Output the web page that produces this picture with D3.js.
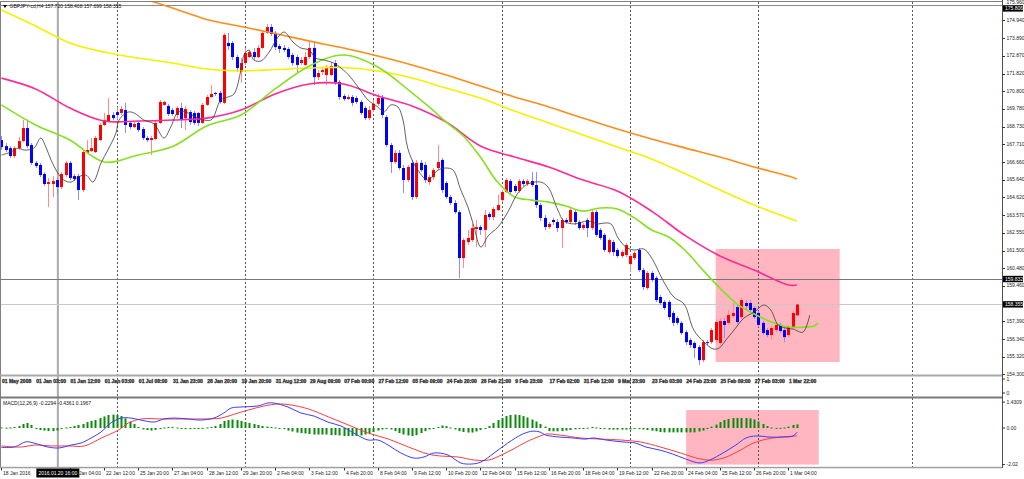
<!DOCTYPE html>
<html>
<head>
<meta charset="utf-8">
<script src="https://cdn.jsdelivr.net/npm/d3@7"></script>
<style>
  body { margin: 0; background: #fff; }
  text { font-family: "Liberation Sans", Arial, sans-serif; font-size: 5px; }
</style>
</head>
<body>
<div id="chart"></div>
<script>
// GBPJPY H4 candles, 18 Jan 12:00 .. 1 Mar 12:00
const opens = [
  167.94,167.59,167.47,167.01,167.47,167.88,168.64,167.65,166.61,166.49,
  165.96,165.38,165.38,165.61,165.20,165.90,166.61,165.84,165.84,165.03,
  167.19,167.30,167.24,167.94,168.82,169.05,169.40,169.57,169.52,169.69,
  168.94,168.70,168.94,168.58,168.06,167.94,168.00,168.94,169.99,169.93,
  169.69,169.40,169.81,169.22,169.57,169.52,169.52,168.94,169.99,170.45,
  170.69,170.69,170.11,173.60,173.60,172.78,171.91,172.43,172.78,173.07,
  172.78,173.31,174.19,174.53,174.19,173.42,173.31,173.25,172.90,172.78,
  172.43,172.32,172.78,173.31,171.61,171.91,171.73,171.73,172.43,171.32,
  170.51,170.33,170.45,170.39,170.16,169.81,169.22,169.69,170.05,170.39,
  169.28,167.65,166.66,167.19,166.31,165.61,166.61,164.62,166.61,166.49,
  165.49,165.78,166.31,166.78,165.44,164.62,164.27,163.74,161.06,161.99,
  162.11,162.75,162.87,162.70,163.63,163.45,163.86,164.44,164.91,165.55,
  165.26,164.97,165.55,165.38,165.55,165.32,164.15,163.40,162.87,163.28,
  163.16,162.81,163.28,163.16,163.74,163.16,162.81,163.28,162.81,163.74,
  162.70,162.41,161.41,161.99,161.53,161.18,161.24,160.71,161.06,161.53,
  160.36,159.31,160.19,159.90,158.79,158.50,158.50,157.86,157.56,157.28,
  156.74,156.28,156.11,155.87,155.11,156.16,156.16,156.28,156.11,157.39,
  157.28,157.68,158.20,157.62,158.44,158.44,158.15,157.86,157.28,156.86,
  156.57,156.86,157.16,156.86,156.57,157.04,157.72
];
const highs = [
  168.18,167.77,167.59,167.59,168.12,169.11,169.11,167.77,166.72,166.61,
  166.07,165.73,165.84,165.73,166.07,166.72,166.72,165.96,165.96,167.36,
  167.94,168.06,168.18,168.94,169.52,170.39,169.57,169.87,169.93,170.11,
  169.05,168.99,169.05,168.70,168.18,168.18,169.05,170.28,170.22,170.05,
  169.81,169.93,170.11,169.93,169.69,169.63,169.57,170.11,170.57,171.15,
  170.74,170.80,174.19,174.19,173.71,172.90,172.72,173.31,173.19,173.31,
  173.48,174.30,174.71,174.71,174.30,173.54,173.48,173.36,173.02,172.90,
  172.78,173.07,173.65,173.65,172.02,172.14,172.32,172.49,172.61,171.44,
  170.63,170.57,170.57,170.51,170.28,169.93,169.93,170.28,170.63,170.57,
  169.40,167.77,167.36,167.36,166.49,166.49,166.78,166.78,166.78,166.66,
  165.90,166.31,167.65,166.89,165.55,164.74,164.44,163.86,162.23,162.70,
  163.05,163.28,162.99,163.86,163.74,164.03,164.74,165.03,165.73,165.67,
  165.38,165.67,165.67,165.67,166.07,166.07,164.27,163.57,163.16,163.40,
  163.34,163.40,163.40,163.98,163.86,163.28,163.10,163.40,163.86,163.86,
  162.81,162.52,162.23,162.11,161.64,161.53,161.94,161.30,161.47,161.64,
  160.48,160.31,160.31,160.01,158.90,158.61,158.61,157.97,157.68,157.39,
  156.86,156.39,156.22,155.99,156.28,156.28,156.98,157.51,157.56,157.56,
  158.03,158.44,158.32,158.73,158.61,158.61,158.26,157.97,157.39,156.98,
  157.10,157.28,157.28,156.98,157.16,157.97,158.408
];
const lows = [
  167.36,167.24,166.89,166.89,167.36,167.82,167.47,166.49,166.31,165.78,
  165.26,164.03,164.62,164.74,165.08,165.78,165.61,165.55,164.44,164.91,
  167.13,167.24,167.19,167.88,168.76,168.99,169.11,169.11,169.40,168.35,
  168.59,168.64,168.41,167.94,167.82,167.07,167.94,168.88,169.93,169.34,
  169.34,169.22,168.64,168.53,168.82,168.82,168.76,168.88,169.93,170.39,
  170.51,170.05,170.05,173.19,172.61,171.91,171.27,172.32,172.72,172.61,
  172.72,173.25,174.13,174.01,173.19,173.02,173.07,172.66,172.26,171.91,
  172.32,172.26,172.66,171.15,171.44,171.73,171.15,171.67,171.15,170.28,
  170.22,170.28,169.93,170.05,169.40,169.11,169.11,169.57,169.93,169.22,
  167.53,166.02,166.55,166.19,164.86,165.49,164.44,164.50,166.07,165.44,
  165.32,165.61,166.19,164.86,164.50,164.15,163.63,159.90,160.48,161.82,
  161.99,161.70,162.41,161.70,163.28,163.28,163.80,164.33,164.86,164.74,
  164.86,164.86,165.26,165.26,165.20,163.98,163.22,162.70,162.75,162.99,
  162.58,161.64,163.05,163.05,162.99,162.70,162.70,162.29,162.70,162.29,
  162.11,161.41,161.30,161.18,161.06,161.06,161.12,160.25,160.95,160.25,
  159.20,159.20,159.66,158.50,158.32,158.03,157.45,157.10,157.16,156.57,
  155.99,155.81,155.23,154.82,154.99,155.99,156.04,156.11,155.99,156.39,
  157.16,157.56,157.22,157.51,158.03,157.91,157.51,157.04,156.57,156.45,
  156.28,156.74,156.69,156.16,156.45,156.92,157.699
];
const closes = [
  167.53,167.36,167.01,167.47,167.88,168.64,167.59,166.61,166.43,165.90,
  165.38,165.49,165.55,165.20,165.96,166.61,165.73,165.67,165.03,167.24,
  167.36,167.47,168.06,168.82,169.11,169.40,169.22,169.40,169.75,168.82,
  168.70,168.88,168.53,168.06,167.94,168.06,168.94,170.16,170.16,169.46,
  169.46,169.81,169.11,169.75,168.99,168.94,168.94,169.99,170.45,170.63,
  170.63,170.16,174.07,173.42,172.78,172.14,172.43,173.02,173.07,172.78,
  173.31,174.19,174.53,174.13,173.36,173.25,173.19,172.78,172.43,172.32,
  172.61,172.78,173.31,171.61,171.85,172.02,172.20,172.26,171.32,170.45,
  170.33,170.45,170.11,170.16,169.52,169.22,169.69,170.05,170.39,169.40,
  167.65,166.66,167.19,166.31,165.61,166.37,164.62,166.61,166.19,165.61,
  165.78,166.19,166.66,165.03,164.62,164.27,163.74,161.06,162.11,162.23,
  162.81,162.87,162.70,163.57,163.45,163.92,164.15,164.91,165.61,164.91,
  164.97,165.55,165.38,165.55,165.32,164.15,163.40,162.87,163.05,163.16,
  162.81,163.28,163.16,163.86,163.16,162.81,162.99,162.81,163.74,162.41,
  162.23,161.53,162.11,161.41,161.18,161.41,161.82,161.18,161.35,160.36,
  159.37,160.19,159.78,158.61,158.44,158.15,157.62,157.28,157.28,156.69,
  156.16,155.99,155.81,155.11,156.16,156.11,156.86,157.33,157.39,157.16,
  157.74,157.86,157.33,158.61,158.26,158.03,157.62,157.16,156.69,156.57,
  156.98,157.16,156.81,156.45,157.04,157.86,158.355
];

// moving averages as [bar, price] points
const fastMA = [[0,167.07],[2.2,167.24],[3.9,167.47],[5.3,167.36],[7.6,167.47],[9.2,168.06],[10.4,167.53],
  [11.6,166.78],[13.2,166.02],[14.6,165.61],[16.3,165.49],[17.9,165.78],[19.8,165.90],[21.4,165.49],[23.3,166.61],
  [24.9,167.36],[26.8,168.36],[27.5,169.11],[29.6,169.57],[31.0,169.52],[33.3,169.11],[35.7,168.88],[38.0,168.06],
  [39.6,168.70],[41.3,169.57],[43.1,169.57],[46.0,169.22],[49.0,169.11],[51.3,170.28],[53.0,170.45],[54.4,170.63],
  [56.0,172.0],[56.8,172.95],[57.9,173.19],[59.0,172.61],[60.7,172.55],[62.6,173.07],[64.7,173.95],[66.1,174.24],
  [68.2,173.65],[70.0,173.31],[71.9,173.19],[73.5,172.72],[75.4,172.61],[77.7,172.43],[79.4,172.14],[81.2,171.73],
  [83.4,171.03],[85.7,170.28],[88.0,169.87],[89.4,169.57],[91.1,169.99],[92.7,169.87],[93.9,169.11],[95.0,167.47],
  [96.9,166.37],[99.7,165.61],[102.1,166.19],[103.9,166.31],[105.6,166.19],[107.4,165.03],[109.1,164.03],[110.5,162.87],
  [112.1,161.70],[113.8,162.35],[116.1,162.87],[118.4,163.74],[120.8,164.86],[123.1,165.38],[126.1,165.49],[127.8,165.20],
  [130.1,163.86],[131.5,163.22],[133.9,163.05],[137.1,163.22],[139.5,163.05],[140.9,163.10],[142.5,163.05],[144.2,162.23],
  [146.0,161.70],[147.9,161.53],[150.2,161.59],[151.9,161.12],[154.9,159.66],[157.2,158.79],[159.6,158.38],[161.9,156.86],
  [164.3,156.16],[166.4,155.76],[167.8,155.81],[169.4,156.28],[171.3,156.86],[173.6,157.56],[176.0,157.91],[178.3,158.32],
  [179.9,158.03],[181.6,157.16],[183.4,156.98],[185.1,156.92],[187.4,156.74],[189.0,157.74]];
const greenMA = [[0,169.99],[8,168.82],[16,167.94],[24,166.66],[32,167.07],[40,167.56],[48,168.76],[56,169.40],
  [64,170.92],[72,172.26],[80,172.90],[88,172.20],[96,170.69],[100,169.87],[104,168.99],[108,168.18],[112,166.95],
  [116,165.49],[120,164.62],[124,164.44],[128,164.32],[132,164.09],[136,163.80],[140,163.98],[144,163.92],[148,163.40],
  [152,162.70],[156,162.29],[160,161.47],[164,160.36],[168,159.31],[172,158.38],[176,157.80],[180,157.33],[184,157.04],
  [188,157.04],[190,157.10],[191,157.28]];
const magentaMA = [[0,171.55],[8,170.92],[16,169.81],[24,169.05],[32,169.05],[40,169.11],[48,169.22],[56,169.69],
  [64,170.63],[72,171.21],[80,171.21],[88,170.51],[96,169.93],[104,168.99],[112,167.59],[120,166.95],[128,166.37],
  [136,165.61],[144,164.97],[152,163.80],[160,162.35],[168,161.18],[176,160.36],[184,159.49],[186,159.49]];
const yellowMA = [[0,175.52],[8,174.59],[16,173.60],[24,173.07],[32,172.72],[40,172.43],[48,172.08],[56,171.97],
  [64,172.05],[72,172.14],[80,172.17],[88,171.97],[96,171.56],[104,170.97],[112,170.39],[120,169.63],[128,168.94],
  [136,168.24],[144,167.53],[152,166.84],[160,165.96],[168,165.03],[176,164.15],[184,163.40],[186,163.22]];
const orangeMA = [[24,176.93],[32,176.28],[40,175.64],[48,174.97],[56,174.56],[64,174.15],[72,173.71],[80,173.31],
  [88,172.84],[96,172.32],[104,171.73],[112,171.09],[120,170.45],[128,169.87],[136,169.22],[144,168.58],[152,168.00],
  [160,167.47],[168,166.95],[176,166.37],[184,165.84],[186,165.67]];

// MACD(12,26,9)
const macdHist = [
  0.03,0.02,0.03,0.06,0.11,0.22,0.28,0.17,-0.06,-0.11,
  -0.14,-0.17,-0.17,-0.14,-0.06,0.03,0.06,0.11,0.17,0.22,
  0.33,0.39,0.44,0.55,0.64,0.72,0.74,0.72,0.66,0.53,
  0.36,0.22,0.06,-0.08,-0.11,-0.14,-0.11,-0.06,0.03,0.06,
  0.06,0.03,-0.03,-0.06,-0.06,-0.03,-0.03,0.01,0.03,0.06,
  0.11,0.22,0.39,0.44,0.47,0.44,0.39,0.33,0.28,0.22,
  0.17,0.11,0.08,0.06,0.03,-0.01,-0.06,-0.14,-0.19,-0.25,
  -0.28,-0.30,-0.33,-0.36,-0.36,-0.36,-0.36,-0.39,-0.39,-0.41,
  -0.44,-0.44,-0.44,-0.44,-0.41,-0.36,-0.30,-0.22,-0.14,-0.08,
  -0.06,-0.08,-0.17,-0.28,-0.36,-0.41,-0.44,-0.39,-0.28,-0.17,
  -0.08,-0.03,0.06,0.14,0.11,0.03,-0.08,-0.17,-0.22,-0.25,
  -0.25,-0.19,-0.11,-0.03,0.11,0.28,0.44,0.55,0.66,0.72,
  0.74,0.72,0.66,0.58,0.47,0.36,0.22,0.08,-0.17,-0.18,
  -0.18,-0.17,-0.14,-0.11,-0.07,-0.04,-0.02,0.02,0.06,0.03,
  -0.03,-0.06,-0.08,-0.09,-0.09,-0.09,-0.09,-0.08,-0.06,-0.06,
  -0.08,-0.11,-0.15,-0.18,-0.22,-0.24,-0.24,-0.24,-0.24,-0.24,
  -0.24,-0.24,-0.24,-0.19,-0.14,-0.03,0.08,0.19,0.33,0.44,
  0.50,0.55,0.55,0.55,0.55,0.53,0.47,0.36,0.22,0.11,
  0.03,0.01,0.01,0.03,0.08,0.17,0.20
];
const macdLine = [[0,-1.07],[3.0,-1.05],[5.8,-0.76],[7.6,-0.83],[10.9,-1.05],[13.5,-1.10],[16.3,-0.94],[18.6,-0.83],
  [21.0,-0.55],[23.3,-0.22],[25.6,0.28],[28.0,0.55],[30.3,0.55],[32.6,0.44],[35.7,0.33],[38.0,0.50],[40.4,0.55],
  [43.6,0.50],[46.6,0.44],[49.7,0.55],[52.0,0.83],[53.7,1.10],[56.0,1.16],[60.0,1.22],[62.3,1.38],[63.7,1.38],
  [67.0,1.16],[70.0,0.83],[73.1,0.66],[76.3,0.33],[79.4,0.11],[82.4,-0.28],[85.7,-0.66],[88.0,-0.66],[90.4,-0.94],
  [93.4,-1.38],[96.5,-1.66],[98.8,-1.60],[101.1,-1.38],[104.4,-1.49],[107.4,-1.93],[109.8,-1.99],[112.1,-1.88],
  [115.2,-1.38],[118.4,-0.83],[121.9,-0.33],[124.3,-0.17],[125.9,-0.22],[127.3,-0.39],[130.6,-0.50],[133.6,-0.55],
  [136.7,-0.61],[138.3,-0.55],[141.3,-0.66],[145.3,-0.77],[148.3,-0.83],[150.7,-1.05],[154.0,-1.22],[157.0,-1.44],
  [160.0,-1.71],[163.3,-1.93],[165.6,-1.77],[168.7,-1.38],[171.7,-0.94],[174.1,-0.55],[176.4,-0.44],[179.7,-0.50],
  [182.7,-0.50],[185.1,-0.44],[186,-0.2294]];
const signalLine = [[0,-0.99],[4.7,-1.05],[7.7,-0.94],[11.7,-0.99],[15.7,-0.99],[19.4,-0.99],[23.4,-0.55],[27.4,-0.11],
  [29.7,0.28],[32.7,0.50],[37.4,0.50],[42.1,0.50],[46.8,0.50],[51.4,0.55],[54.5,0.77],[57.7,0.99],[61.5,1.22],
  [64.8,1.33],[67.8,1.27],[71.8,1.05],[76.5,0.61],[81.1,0.17],[85.8,-0.28],[90.5,-0.61],[95.2,-1.05],[99.8,-1.44],
  [102.9,-1.55],[106.8,-1.60],[110.6,-1.77],[113.9,-1.77],[116.9,-1.49],[119.7,-1.16],[122.7,-0.77],[126.0,-0.44],
  [127.4,-0.33],[130.7,-0.39],[135.4,-0.55],[140.1,-0.61],[144.7,-0.66],[149.4,-0.77],[154.1,-1.05],[158.8,-1.38],
  [163.4,-1.71],[166.5,-1.77],[169.5,-1.60],[172.8,-1.22],[175.8,-0.83],[178.9,-0.61],[182.1,-0.50],[186,-0.4361]];

// axes, labels and chart objects
const priceTicks = [174.94,173.89,172.87,171.82,170.80,169.78,168.73,167.71,166.66,165.64,164.62,163.57,
  162.55,161.50,160.48,159.46,157.39,156.34,155.32,154.30];
const priceTop = 175.96;
const timeLabels = ["18 Jan 2016","19 Jan 20:00","21 Jan 04:00","22 Jan 12:00","25 Jan 20:00","27 Jan 04:00",
  "28 Jan 12:00","29 Jan 20:00","2 Feb 04:00","3 Feb 12:00","4 Feb 20:00","8 Feb 04:00","9 Feb 12:00",
  "10 Feb 20:00","12 Feb 04:00","15 Feb 12:00","16 Feb 20:00","18 Feb 04:00","19 Feb 12:00","22 Feb 20:00",
  "24 Feb 04:00","25 Feb 12:00","26 Feb 20:00","1 Mar 04:00"];
const subLabels = ["01 May 2008","01 Jan 03:00","01 Jan 12:00","01 Jan 03:00","01 Jul 08:00","31 Jan 23:00",
  "28 Jan 20:00","19 Jan 20:00","31 Aug 12:00","29 Aug 09:00","07 Feb 00:00","27 Feb 12:00","05 Feb 09:00",
  "24 Feb 20:00","26 Feb 21:00","9 Feb 23:00","17 Feb 02:00","31 Feb 12:00","9 Mar 23:00","23 Feb 03:00",
  "24 Feb 23:00","25 Feb 09:00","27 Feb 03:00","1 Mar 22:00"];
const separators = [27, 57, 87, 117, 147, 177, 213];
const levelPrices = [175.806, 159.832, 158.355];
const mainBox = [167, 196, 161.59, 155.00];   // bar from, bar to, price top, price bottom
const macdBox = [160.1, 191.1, 0.99, -2.02];
const crossBar = 13.2;
const crossLabel = "2016.01.20 16:00";
const header = "GBPJPY-cd,H4  157.720 158.408 157.699 158.355";
const macdHeader = "MACD(12,26,9) -0.2294 -0.4361 0.1967";

const W = 1024, H = 479, axisX = 1002;
const svg = d3.select("#chart").append("svg").attr("width", W).attr("height", H).style("display", "block");
svg.append("rect").attr("width", W).attr("height", H).attr("fill", "#fff");

const x = d3.scaleLinear().domain([0, 186]).range([1.4, 1.4 + 4.277 * 186]);
const y = d3.scaleLinear().domain([154.30, 174.94]).range([374, 20]);
const ym = d3.scaleLinear().domain([-2.02, 1.4309]).range([464.6, 402.1]);
const ys = d3.scaleLinear().domain([0, 1]).range([393, 379]);

const cx = x(crossBar);
const boxW = 43;

const defs = svg.append("defs");
defs.append("clipPath").attr("id", "clipMain").append("rect")
  .attr("x", 1).attr("y", 2).attr("width", axisX - 1).attr("height", 372.5);
defs.append("clipPath").attr("id", "clipMacd").append("rect")
  .attr("x", 1).attr("y", 398.5).attr("width", axisX - 1).attr("height", 68);
defs.append("clipPath").attr("id", "clipTime").append("rect")
  .attr("x", cx + boxW / 2).attr("y", 466).attr("width", W).attr("height", 13);

// background objects
svg.append("rect")
  .attr("x", x(mainBox[0])).attr("y", y(mainBox[2]))
  .attr("width", x(mainBox[1]) - x(mainBox[0])).attr("height", y(mainBox[3]) - y(mainBox[2]))
  .attr("fill", "#ffb6c1");
svg.append("rect")
  .attr("x", x(macdBox[0])).attr("y", ym(macdBox[2]))
  .attr("width", x(macdBox[1]) - x(macdBox[0])).attr("height", ym(macdBox[3]) - ym(macdBox[2]))
  .attr("fill", "#ffb6c1");

svg.selectAll("line.sep").data(separators).join("line")
  .attr("x1", d => Math.round(x(d)) + 0.5).attr("x2", d => Math.round(x(d)) + 0.5)
  .attr("y1", 2).attr("y2", 467)
  .attr("stroke", "#555").attr("stroke-dasharray", "2,2");

svg.append("line")
  .attr("x1", cx).attr("x2", cx).attr("y1", 2).attr("y2", 467)
  .attr("stroke", "#ababab").attr("stroke-width", 2);

const levelColors = ["#8a8a8a", "#777", "#c8c8c8"];
svg.selectAll("line.level").data(levelPrices).join("line")
  .attr("x1", 1).attr("x2", axisX)
  .attr("y1", d => Math.round(y(d)) + 0.5).attr("y2", d => Math.round(y(d)) + 0.5)
  .attr("stroke", (d, i) => levelColors[i]);

// candles
const candles = d3.range(opens.length).map(i => ({ i, o: opens[i], h: highs[i], l: lows[i], c: closes[i] }));
const gMain = svg.append("g").attr("clip-path", "url(#clipMain)");
gMain.selectAll("line.wick").data(candles).join("line")
  .attr("x1", d => Math.round(x(d.i)) + 0.5).attr("x2", d => Math.round(x(d.i)) + 0.5)
  .attr("y1", d => y(d.h)).attr("y2", d => y(d.l))
  .attr("stroke", d => d.c >= d.o ? "#ff8c8c" : "#8c8cff");
gMain.selectAll("rect.body").data(candles).join("rect")
  .attr("x", d => Math.round(x(d.i)) - 1).attr("width", 3)
  .attr("y", d => y(Math.max(d.o, d.c)))
  .attr("height", d => Math.max(1, Math.abs(y(d.o) - y(d.c))))
  .attr("fill", d => d.c >= d.o ? "#ff0000" : "#0000ff");

// moving averages
const maLine = d3.line().x(d => x(d[0])).y(d => y(d[1])).curve(d3.curveCatmullRom.alpha(0.5));
[[orangeMA, "#ff8c1a", 1.6], [yellowMA, "#f2f200", 1.6], [magentaMA, "#ff2a94", 1.6],
 [greenMA, "#86e01e", 1.6], [fastMA, "#3a3a3a", 0.8]].forEach(([pts, col, w]) => {
  gMain.append("path").attr("d", maLine(pts))
    .attr("fill", "none").attr("stroke", col).attr("stroke-width", w);
});

// MACD window
const gMacd = svg.append("g").attr("clip-path", "url(#clipMacd)");
gMacd.selectAll("rect.hist").data(macdHist).join("rect")
  .attr("x", (d, i) => Math.round(x(i)) - 0.5).attr("width", 2)
  .attr("y", d => Math.min(ym(0), ym(d)))
  .attr("height", d => Math.max(1, Math.abs(ym(d) - ym(0))))
  .attr("fill", "#0a8a0a");
const mLine = d3.line().x(d => x(d[0])).y(d => ym(d[1])).curve(d3.curveCatmullRom.alpha(0.5));
gMacd.append("path").attr("d", mLine(signalLine)).attr("fill", "none").attr("stroke", "#ff3b3b").attr("stroke-width", 1);
gMacd.append("path").attr("d", mLine(macdLine)).attr("fill", "none").attr("stroke", "#3b3bff").attr("stroke-width", 1);

// window frames
svg.append("line").attr("x1", 0).attr("x2", axisX).attr("y1", 1.5).attr("y2", 1.5).attr("stroke", "#808080");
svg.append("line").attr("x1", 0.5).attr("x2", 0.5).attr("y1", 1).attr("y2", 468).attr("stroke", "#808080");
svg.append("line").attr("x1", axisX + 0.5).attr("x2", axisX + 0.5).attr("y1", 0).attr("y2", 468).attr("stroke", "#505050");
svg.append("rect").attr("x", 0).attr("y", 374.5).attr("width", axisX).attr("height", 2).attr("fill", "#a8a8a8");
svg.append("rect").attr("x", 0).attr("y", 396.5).attr("width", axisX).attr("height", 2).attr("fill", "#7a7a7a");
svg.append("rect").attr("x", 0).attr("y", 466.8).attr("width", axisX).attr("height", 1.5).attr("fill", "#a0a0a0");

// header texts
svg.append("path").attr("d", "M3,5 L7,5 L5,8 Z").attr("fill", "#000");
svg.append("text").attr("x", 9.5).attr("y", 8).attr("fill", "#111").text(header);
svg.append("text").attr("x", 3).attr("y", 404.5).attr("fill", "#111").text(macdHeader);

// right price axis
const fmt3 = d3.format(".3f");
const rightAxis = svg.append("g");
rightAxis.selectAll("line.tick").data(priceTicks).join("line")
  .attr("x1", axisX).attr("x2", axisX + 3)
  .attr("y1", d => Math.round(y(d)) + 0.5).attr("y2", d => Math.round(y(d)) + 0.5)
  .attr("stroke", "#333");
rightAxis.selectAll("text.tick").data(priceTicks).join("text")
  .attr("x", axisX + 4.5).attr("y", d => y(d) + 1.8).attr("fill", "#222").text(d => fmt3(d));
rightAxis.append("text").attr("x", axisX + 4.5).attr("y", 4.3).attr("font-size", "4.2px")
  .attr("fill", "#222").text(fmt3(priceTop));

levelPrices.forEach((p, i) => {
  const top = i === 0 ? 5.2 : y(p) - 3.3;   // top box sits just under the max-price label
  rightAxis.append("rect").attr("x", axisX + 1).attr("y", top).attr("width", 20).attr("height", 6.4).attr("fill", "#000");
  rightAxis.append("text").attr("x", axisX + 3).attr("y", top + 5).attr("fill", "#fff").text(fmt3(p));
});

// empty indicator window scale
[1, 0].forEach(v => {
  svg.append("line").attr("x1", axisX).attr("x2", axisX + 3).attr("y1", ys(v)).attr("y2", ys(v)).attr("stroke", "#333");
  svg.append("text").attr("x", axisX + 4.5).attr("y", ys(v) + 1.8).attr("fill", "#222").text(v);
});

// MACD scale
[[1.4309, "1.4309"], [0, "0.00"], [-2.02, "-2.02"]].forEach(([v, t]) => {
  svg.append("line").attr("x1", axisX).attr("x2", axisX + 3).attr("y1", ym(v)).attr("y2", ym(v)).attr("stroke", "#333");
  svg.append("text").attr("x", axisX + 4.5).attr("y", ym(v) + 1.8).attr("fill", "#222").text(t);
});

// smeared date labels in the empty window
svg.append("g").selectAll("text").data(subLabels).join("text")
  .attr("x", (d, k) => x(8 * k) + 0.6).attr("y", 382.6)
  .attr("fill", "#222").attr("stroke", "#444").attr("stroke-width", 0.35)
  .attr("font-weight", "bold").text(d => d);

// bottom time axis; labels under the crosshair box only show past its right edge
const timeG = svg.append("g");
const boxL = cx - boxW / 2, boxR = cx + boxW / 2;
timeLabels.forEach((t, k) => {
  const bx = Math.round(x(8 * k)) + 0.5;
  const tx = bx + 1.5, tw = t.length * 2.6;
  if (tx >= boxL && tx + tw <= boxR) return;          // fully hidden by the box
  timeG.append("line").attr("x1", bx).attr("x2", bx).attr("y1", 468).attr("y2", 470.5).attr("stroke", "#333");
  const el = timeG.append("text").attr("x", tx).attr("y", 474.6).attr("fill", "#222").text(t);
  if (tx < boxR && tx + tw > boxR) el.attr("clip-path", "url(#clipTime)");
});
timeG.append("rect").attr("x", boxL).attr("y", 468.5).attr("width", boxW).attr("height", 9).attr("fill", "#000");
timeG.append("text").attr("x", cx).attr("y", 474.8).attr("fill", "#fff").attr("text-anchor", "middle").text(crossLabel);
</script>
</body>
</html>
